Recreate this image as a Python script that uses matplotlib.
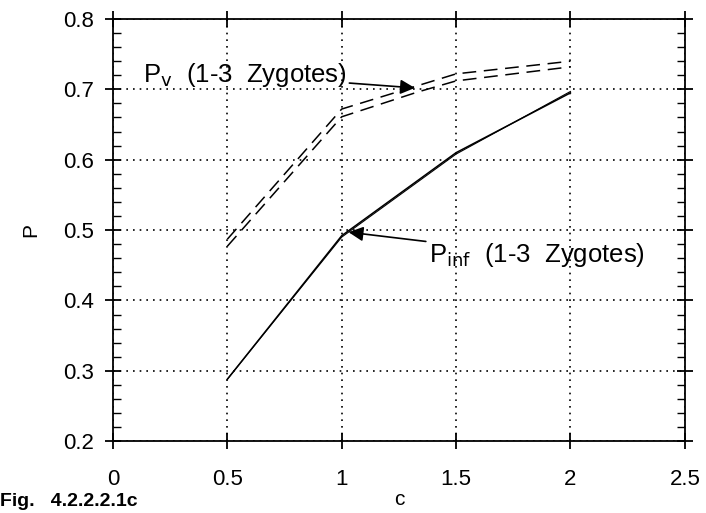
import numpy as np
import matplotlib.pyplot as plt
from matplotlib.ticker import MultipleLocator, FormatStrFormatter

plt.rcParams['font.family'] = ['Liberation Sans', 'DejaVu Sans']

# P_inf curves (two nearly overlapping solid lines)
c_inf = [0.5, 1.0, 1.5, 2.0]
p_inf_a = [0.288, 0.492, 0.610, 0.695]
p_inf_b = [0.288, 0.490, 0.608, 0.697]

# P_v curves (two dashed lines)
c_v = [0.5, 1.0, 1.33, 1.5, 2.0]
p_v_a = [0.487, 0.672, 0.705, 0.722, 0.740]
p_v_b = [0.477, 0.661, 0.696, 0.712, 0.732]

fig = plt.figure(figsize=(7.06, 5.13), dpi=100)
ax = fig.add_axes([0.160, 0.140, 0.810, 0.823])

ax.plot(c_inf, p_inf_a, color='black', lw=1.1)
ax.plot(c_inf, p_inf_b, color='black', lw=0.8)
ax.plot(c_v, p_v_a, color='black', lw=1.1, ls=(0, (9, 5)))
ax.plot(c_v, p_v_b, color='black', lw=1.1, ls=(0, (9, 5)))

ax.set_xlim(0, 2.5)
ax.set_ylim(0.2, 0.8)
ax.xaxis.set_major_locator(MultipleLocator(0.5))
ax.xaxis.set_major_formatter(FormatStrFormatter('%g'))
ax.yaxis.set_major_locator(MultipleLocator(0.1))
ax.yaxis.set_major_formatter(FormatStrFormatter('%g'))
ax.yaxis.set_minor_locator(MultipleLocator(0.02))
ax.tick_params(which='major', direction='inout', length=12, width=1.3,
               top=True, right=True, labelsize=16)
ax.tick_params(axis='x', which='major', pad=14)
ax.tick_params(axis='y', which='major', pad=8)
ax.tick_params(which='minor', direction='in', length=6, width=1,
               left=True, right=True)
ax.grid(True, which='major', color='black', ls=(0, (1, 3)), lw=1.2)
for s in ax.spines.values():
    s.set_linewidth(1.3)

ax.set_xlabel('c', fontsize=15, labelpad=0)
ax.set_ylabel('P', fontsize=15, labelpad=16)

ax.annotate(r'P$_{\rm v}$  (1-3  Zygotes)', xy=(1.32, 0.702), xytext=(0.13, 0.72),
            fontsize=18.5, va='center',
            arrowprops=dict(arrowstyle='-|>', color='black', lw=1.2,
                            mutation_scale=22, shrinkA=0, shrinkB=0))
ax.annotate(r'P$_{\rm inf}$  (1-3  Zygotes)', xy=(1.03, 0.497), xytext=(1.38, 0.465),
            fontsize=18.5, va='center',
            arrowprops=dict(arrowstyle='-|>', color='black', lw=1.2,
                            mutation_scale=22, shrinkA=0, shrinkB=0))

fig.text(0.0, 0.005, 'Fig.   4.2.2.2.1c', fontsize=14, fontweight='bold', va='bottom')

fig.savefig('out.png', dpi=100)
